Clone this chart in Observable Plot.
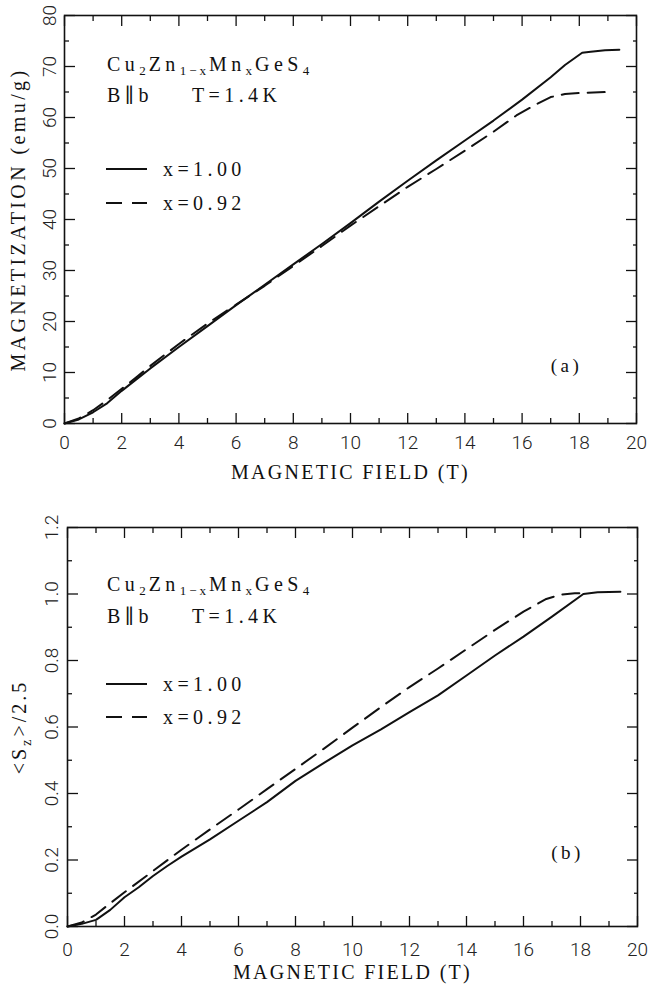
<!DOCTYPE html>
<html>
<head>
<meta charset="utf-8">
<script src="https://cdn.jsdelivr.net/npm/d3@7"></script>
<script src="https://cdn.jsdelivr.net/npm/@observablehq/plot@0.6"></script>
<style>
  body { margin: 0; background: #fff; }
  #fig { width: 649px; height: 984px; position: relative; overflow: hidden; }
  .panel { position: relative; width: 649px; }
  .panel svg { display: block; }
  .note {
    position: absolute; white-space: nowrap; line-height: 1;
    font-family: "Liberation Serif", "DejaVu Serif", serif;
    font-size: 20px; letter-spacing: 4.4px; color: #111;
    transform: translateY(-50%);
  }
  .note sub { font-size: 13px; vertical-align: -4px; line-height: 0; letter-spacing: 3px; }
  .swatch { position: absolute; transform: translateY(-50%); }
</style>
</head>
<body>
<div id="fig"></div>
<script>
// Magnetization M (emu/g) versus applied field B (T), panel (a)
const fieldA100 = [0, 0.5, 1, 1.5, 2, 2.5, 3, 4, 5, 6, 7, 8, 9, 10, 11, 12, 13, 14, 15, 16, 17, 17.5, 18.1, 18.4, 18.9, 19.4];
const magA100   = [0, 0.8, 2.2, 4.0, 6.4, 8.6, 10.8, 15.0, 19.1, 23.2, 27.2, 31.2, 35.2, 39.3, 43.5, 47.6, 51.6, 55.5, 59.4, 63.5, 67.9, 70.3, 72.7, 72.9, 73.2, 73.3];
const fieldA092 = [0, 0.5, 1, 1.5, 2, 2.5, 3, 4, 5, 6, 7, 8, 9, 10, 11, 12, 13, 14, 15, 15.8, 16.5, 17, 17.5, 18, 19.0];
const magA092   = [0, 1.0, 2.6, 4.6, 6.8, 9.0, 11.3, 15.6, 19.6, 23.3, 27.0, 30.9, 34.8, 38.8, 42.6, 46.4, 49.9, 53.5, 57.2, 60.4, 62.6, 64.0, 64.6, 64.8, 65.0];

// Reduced spin <Sz>/2.5 versus applied field B (T), panel (b)
const fieldB100 = [0, 0.5, 1, 1.5, 2, 2.5, 3, 3.5, 4, 5, 6, 7, 8, 9, 10, 11, 12, 13, 14, 15, 16, 17, 18.1, 18.6, 19.4];
const spinB100  = [0, 0.008, 0.02, 0.05, 0.088, 0.118, 0.152, 0.182, 0.21, 0.262, 0.318, 0.374, 0.438, 0.492, 0.545, 0.593, 0.645, 0.695, 0.755, 0.815, 0.872, 0.932, 1.0, 1.005, 1.007];
const fieldB092 = [0, 0.5, 1, 1.5, 2, 3, 4, 5, 6, 7, 8, 9, 10, 11, 12, 13, 14, 15, 16, 16.8, 17.3, 17.8, 18.2];
const spinB092  = [0, 0.012, 0.036, 0.07, 0.103, 0.167, 0.231, 0.292, 0.352, 0.413, 0.474, 0.535, 0.598, 0.66, 0.72, 0.776, 0.834, 0.892, 0.947, 0.985, 0.998, 1.002, 1.003];

// Tick values
const fieldMajor = [0, 2, 4, 6, 8, 10, 12, 14, 16, 18, 20];
const fieldMinor = [1, 3, 5, 7, 9, 11, 13, 15, 17, 19];
const magMajor   = [0, 10, 20, 30, 40, 50, 60, 70, 80];
const magMinor   = [5, 15, 25, 35, 45, 55, 65, 75];
const spinMajor  = [0, 0.2, 0.4, 0.6, 0.8, 1.0, 1.2];
const spinMinor  = [0.1, 0.3, 0.5, 0.7, 0.9, 1.1];

// Text
const xTitle = "MAGNETIC FIELD (T)";
const yTitleA = "MAGNETIZATION (emu/g)";
const yTitleB = "<Sz>/2.5";
const seriesLabels = ["x=1.00", "x=0.92"];
const panelTags = ["(a)", "(b)"];

const SERIF = "'Liberation Serif', 'DejaVu Serif', serif";
const SANS = "Roboto, 'Liberation Sans', sans-serif";

const zip = (xs, ys) => xs.map((x, i) => ({x, y: ys[i]}));

// Inward ticks on all four sides, tick labels on the bottom and (rotated) on the left
function frameAxes(o) {
  const thin = {label: null, tickFormat: () => "", strokeWidth: 1.3};
  return [
    Plot.axisX(fieldMajor, {...thin, anchor: "bottom", tickSize: -10}),
    Plot.axisX(fieldMinor, {...thin, anchor: "bottom", tickSize: -5}),
    Plot.axisX(fieldMajor, {...thin, anchor: "top", tickSize: -10}),
    Plot.axisX(fieldMinor, {...thin, anchor: "top", tickSize: -5}),
    Plot.axisY(o.yMajor, {...thin, anchor: "left", tickSize: -11}),
    Plot.axisY(o.yMinor, {...thin, anchor: "left", tickSize: -5}),
    Plot.axisY(o.yMajor, {...thin, anchor: "right", tickSize: -11}),
    Plot.axisY(o.yMinor, {...thin, anchor: "right", tickSize: -4}),
    Plot.text(fieldMajor, {x: d => d, text: d => String(d), frameAnchor: "bottom", dy: o.xPad,
      textAnchor: "middle", lineAnchor: "middle", fontSize: 19, fontWeight: 300, fontFamily: SANS, fill: "#222"}),
    Plot.text(o.yMajor, {y: d => d, text: o.yFormat, frameAnchor: "left", dx: -o.yPad, rotate: -90,
      textAnchor: "middle", lineAnchor: "bottom", fontSize: 19, fontWeight: 300, fontFamily: SANS, fill: "#222"}),
    Plot.frame({stroke: "#111", strokeWidth: 1.6})
  ];
}

function panel(o) {
  const svg = Plot.plot({
    width: 649, height: o.height,
    marginTop: o.mt, marginRight: o.mr, marginBottom: o.mb, marginLeft: o.ml,
    style: {fontFamily: SANS, background: "#fff", color: "#111"},
    x: {domain: [0, 20], label: null},
    y: {domain: o.yDomain, label: null},
    marks: [
      ...frameAxes(o),
      Plot.line(zip(o.f100, o.v100), {x: "x", y: "y", stroke: "#111", strokeWidth: 2}),
      Plot.line(zip(o.f092, o.v092), {x: "x", y: "y", stroke: "#111", strokeWidth: 2, strokeDasharray: "17,9"}),
      Plot.text([xTitle], {text: d => d, frameAnchor: "bottom", dy: o.xTitleDy, textAnchor: "middle", lineAnchor: "middle",
        fontSize: 20, fontFamily: SERIF, fill: "#111"}),
      Plot.text([o.yTitle], {text: d => d, frameAnchor: "left", rotate: -90, dx: o.yTitleDx, textAnchor: "middle", lineAnchor: "middle",
        fontSize: 20, fontFamily: SERIF, fill: "#111"}),
      Plot.text([o.tag], {text: d => d, frameAnchor: "bottom-right", dx: o.tagDx, dy: o.tagDy, textAnchor: "middle", lineAnchor: "middle",
        fontSize: 19, fontFamily: SERIF, fill: "#111"})
    ]
  });
  const texts = d3.select(svg).selectAll("text");
  texts.filter(function () { return this.textContent === xTitle; }).style("letter-spacing", "2.3px");
  texts.filter(function () { return this.textContent === o.yTitle; }).style("letter-spacing", o.yTitleSpacing);
  texts.filter(function () { return this.textContent === o.tag; }).style("letter-spacing", "3.5px");
  // subscript z in <Sz>
  texts.filter(function () { return this.textContent === yTitleB; }).each(function () {
    const t = d3.select(this);
    t.text(null);
    t.append("tspan").text("<S");
    t.append("tspan").attr("font-size", 14).attr("dy", 5).text("z");
    t.append("tspan").attr("dy", -5).text(">/2.5");
  });
  return svg;
}

function addNotes(div, n) {
  const add = (html, left, top, cls = "note") => {
    const el = document.createElement("div");
    el.className = cls;
    el.style.left = left + "px";
    el.style.top = top + "px";
    el.innerHTML = html;
    div.appendChild(el);
  };
  add("Cu<sub>2</sub>Zn<sub>1\u2212x</sub>Mn<sub>x</sub>GeS<sub>4</sub>", 107, n.formula);
  add("B\u2225b", 107, n.cond);
  add("T=1.4K", 192, n.cond);
  add(`<svg width="42" height="6"><line x1="0" y1="3" x2="41" y2="3" stroke="#111" stroke-width="2"/></svg>`, 106, n.solid, "swatch");
  add(`<svg width="42" height="6"><line x1="0" y1="3" x2="41" y2="3" stroke="#111" stroke-width="2" stroke-dasharray="16,10"/></svg>`, 106, n.dashed, "swatch");
  add(seriesLabels[0], 163, n.solid);
  add(seriesLabels[1], 163, n.dashed);
}

const fig = document.getElementById("fig");

const divA = document.createElement("div");
divA.className = "panel";
divA.appendChild(panel({
  height: 490, mt: 15, mr: 13, mb: 67, ml: 64,
  yDomain: [0, 80], yMajor: magMajor, yMinor: magMinor, yFormat: d => String(d),
  f100: fieldA100, v100: magA100, f092: fieldA092, v092: magA092,
  yTitle: yTitleA, yTitleSpacing: "3.4px", tag: panelTags[0],
  xPad: 19, yPad: 9, xTitleDy: 49, yTitleDx: -46, tagDx: -70, tagDy: -58
}));
addNotes(divA, {formula: 64, cond: 95, solid: 169, dashed: 203});
fig.appendChild(divA);

const divB = document.createElement("div");
divB.className = "panel";
divB.appendChild(panel({
  height: 494, mt: 37, mr: 12, mb: 58, ml: 67,
  yDomain: [0, 1.2], yMajor: spinMajor, yMinor: spinMinor, yFormat: d3.format(".1f"),
  f100: fieldB100, v100: spinB100, f092: fieldB092, v092: spinB092,
  yTitle: yTitleB, yTitleSpacing: "3px", tag: panelTags[1],
  xPad: 23, yPad: 10, xTitleDy: 46, yTitleDx: -48, tagDx: -70, tagDy: -74
}));
addNotes(divB, {formula: 94, cond: 126, solid: 194, dashed: 227});
fig.appendChild(divB);
</script>
</body>
</html>
